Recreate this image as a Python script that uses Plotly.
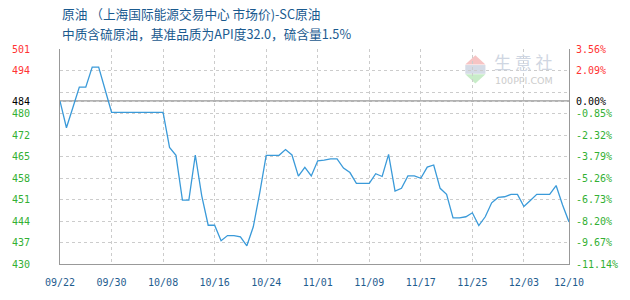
import pandas as pd
import plotly.graph_objects as go

# ---- data ----
dates = pd.date_range("2025-09-22", "2025-12-10", freq="D")
values = [
    483.8, 475.0, 481.7, 488.4, 488.4, 495.0, 495.0, 487.5, 480.1, 480.1,
    480.1, 480.1, 480.1, 480.1, 480.1, 480.1, 480.1, 468.5, 465.9, 451.1,
    451.1, 466.0, 452.5, 442.8, 442.8, 437.7, 439.4, 439.4, 439.0, 436.0,
    442.3, 453.5, 465.9, 465.9, 465.9, 467.8, 466.0, 459.0, 461.9, 459.1,
    464.1, 464.3, 464.7, 464.7, 461.7, 460.2, 456.6, 456.6, 456.6, 459.8,
    458.9, 466.2, 454.1, 455.0, 459.1, 459.1, 458.3, 462.0, 462.7, 455.0,
    453.0, 445.2, 445.2, 445.6, 446.9, 442.7, 445.6, 450.2, 452.0, 452.2,
    453.0, 453.0, 449.0, 451.0, 453.0, 453.0, 453.0, 455.9, 449.5, 443.9,
]
y_tickvals = [430.0, 437.1, 444.2, 451.3, 458.4, 465.5, 472.6, 479.7, 483.8, 486.8, 493.9, 501.0]
y_left_labels = ["430", "437", "444", "451", "458", "465", "472", "480", "484", "", "494", "501"]
y_right_labels = ["-11.14%", "-9.67%", "-8.20%", "-6.73%", "-5.26%", "-3.79%", "-2.32%",
                  "-0.85%", "0.00%", "", "2.09%", "3.56%"]
x_tick_dates = ["2025-09-22", "2025-09-30", "2025-10-08", "2025-10-16", "2025-10-24",
                "2025-11-01", "2025-11-09", "2025-11-17", "2025-11-25", "2025-12-03",
                "2025-12-10"]
x_tick_labels = ["09/22", "09/30", "10/08", "10/16", "10/24", "11/01", "11/09",
                 "11/17", "11/25", "12/03", "12/10"]
title_line1 = "原油 （上海国际能源交易中心 市场价)-SC原油"
title_line2 = "中质含硫原油，基准品质为API度32.0，硫含量1.5%"

base = values[0]
RED, GREEN, BLACK = "#ff3333", "#33b033", "#000000"


def colored(lbl, v):
    if lbl == "":
        return ""
    c = BLACK if abs(v - base) < 0.05 else (RED if v > base else GREEN)
    return f"<span style='color:{c}'>{lbl}</span>"


left_text = [colored(l, v) for l, v in zip(y_left_labels, y_tickvals)]
right_text = [colored(l, v) for l, v in zip(y_right_labels, y_tickvals)]

W, H = 630, 300
L, R, T, B = 50, 50, 49, 30
pw, ph = W - L - R, H - T - B


def px(xp):
    return (xp - L) / pw


def py(yp):
    return (H - B - yp) / ph


fig = go.Figure()
fig.add_trace(go.Scatter(x=dates, y=values, mode="lines",
                         line=dict(color="#3a9ad9", width=1.3),
                         showlegend=False, hoverinfo="x+y"))
fig.add_trace(go.Scatter(x=[dates[0]], y=[values[0]], yaxis="y2", mode="lines",
                         line=dict(width=0), showlegend=False, hoverinfo="skip"))

mono = "DejaVu Sans Mono"
grid = dict(showgrid=True, gridcolor="#cccccc", griddash="3px,3px", gridwidth=1)

fig.update_layout(
    width=W, height=H,
    margin=dict(l=L, r=R, t=T, b=B, pad=0),
    paper_bgcolor="white", plot_bgcolor="white",
    xaxis=dict(type="date", range=[dates[0], dates[-1]],
               tickvals=x_tick_dates, ticktext=x_tick_labels,
               tickfont=dict(family=mono, size=10, color="#1f5d8f"),
               showline=True, linecolor="#999999", linewidth=1,
               ticks="", ticklabelstandoff=9, zeroline=False, **grid),
    yaxis=dict(range=[430, 501], tickmode="array", tickvals=y_tickvals, ticktext=left_text,
               tickfont=dict(family=mono, size=10),
               showline=True, linecolor="#999999", linewidth=1,
               ticks="", ticklabelstandoff=27, zeroline=False, **grid),
    yaxis2=dict(range=[430, 501], overlaying="y", side="right",
                tickmode="array", tickvals=y_tickvals, ticktext=right_text,
                tickfont=dict(family=mono, size=10),
                showline=True, linecolor="#999999", linewidth=1,
                ticks="", ticklabelstandoff=4, showgrid=False, zeroline=False),
    shapes=[
        dict(type="line", xref="x", yref="y", x0=dates[0], x1=dates[-1], y0=base, y1=base,
             line=dict(color="#999999", width=1.5), layer="below"),
        # watermark logo
        dict(type="path", xref="paper", yref="paper", layer="below",
             path=f"M {px(472)},{py(65)} L {px(493)},{py(65)} L {px(482.5)},{py(55.5)} Z",
             fillcolor="#f6c4c4", line=dict(width=0)),
        dict(type="rect", xref="paper", yref="paper", layer="below",
             x0=px(472), x1=px(493), y0=py(74.5), y1=py(65.5),
             fillcolor="#d5dbe6", line=dict(width=0)),
        dict(type="path", xref="paper", yref="paper", layer="below",
             path=f"M {px(472)},{py(75)} L {px(493)},{py(75)} L {px(482.5)},{py(84.5)} Z",
             fillcolor="#c8ecc8", line=dict(width=0)),
    ],
    annotations=[
        dict(text=title_line1, xref="paper", yref="paper", x=px(50), y=py(12),
             xanchor="left", yanchor="middle", showarrow=False,
             font=dict(family="Noto Sans CJK SC", size=12.7, color="#1a5a8f")),
        dict(text=title_line2, xref="paper", yref="paper", x=px(50), y=py(33),
             xanchor="left", yanchor="middle", showarrow=False,
             font=dict(family="Noto Sans CJK SC", size=12.7, color="#1a5a8f")),
        dict(text="生 意 社", xref="paper", yref="paper", x=px(500), y=py(62),
             xanchor="left", yanchor="middle", showarrow=False,
             font=dict(family="Noto Sans CJK SC", size=17, color="#cfd6e2")),
        dict(text="100PPI.COM", xref="paper", yref="paper", x=px(501), y=py(81),
             xanchor="left", yanchor="middle", showarrow=False,
             font=dict(family="DejaVu Sans", size=9.5, color="#cccccc")),
    ],
)

fig.write_html("out.html")
